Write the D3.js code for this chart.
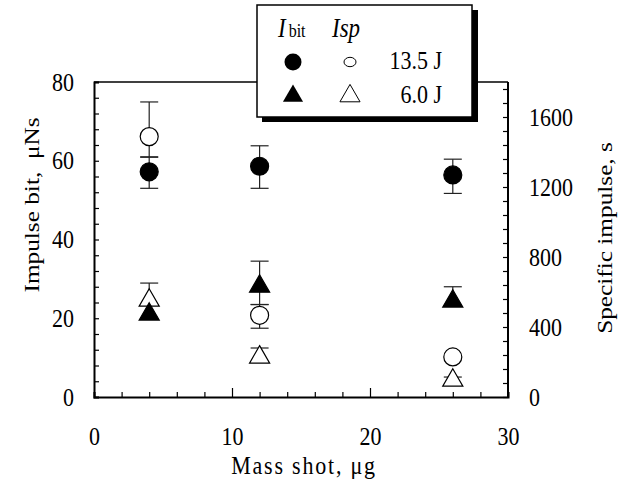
<!DOCTYPE html>
<html>
<head>
<meta charset="utf-8">
<script src="https://cdn.jsdelivr.net/npm/d3@7"></script>
<style>
  body { margin: 0; background: #fff; }
  svg text { font-family: "Liberation Serif", "Times New Roman", Times, serif !important; }
</style>
</head>
<body>
<svg id="chart" width="625" height="495"></svg>
<script>
// mass shot values (x)
const mass = [4, 12, 26];

// impulse bit, uNs (left axis)
const ibit135 = [57.2, 58.6, 56.4];
const ibit135Lo = [53.0, 53.0, 51.7];
const ibit135Hi = [61.0, 63.8, 60.4];
const ibit60 = [21.0, 28.1, 24.3];
const ibit60Lo = [null, 23.5, null];
const ibit60Hi = [null, 34.5, 28.0];

// specific impulse, s (right axis)
const isp135 = [1488, 467, 229];
const isp135Lo = [1370, 393, null];
const isp135Hi = [1686, 528, null];
const isp60 = [552, 227, 95];
const isp60Lo = [null, null, null];
const isp60Hi = [651, 280, 114];

const xTicks = [0, 10, 20, 30];
const leftTicks = [0, 20, 40, 60, 80];
const rightTicks = [0, 400, 800, 1200, 1600];

// the original figure is a bit taller than wide in its lettering
const stretch = 'scale(1,1.15)';

const svg = d3.select('#chart'),
      margin = {top: 82, right: 117, bottom: 98, left: 94},
      width = +svg.attr('width') - margin.left - margin.right,
      height = +svg.attr('height') - margin.top - margin.bottom,
      g = svg.append('g').attr('transform', 'translate(' + margin.left + ',' + margin.top + ')');

const x = d3.scaleLinear().domain([0, 30]).range([0, width]);
const yL = d3.scaleLinear().domain([0, 80]).range([height, 0]);
const yR = d3.scaleLinear().domain([0, 1800]).range([height, 0]);

// top border of the frame
g.append('line')
    .attr('x1', 0).attr('x2', width)
    .attr('y1', 0).attr('y2', 0)
    .attr('stroke', '#000').attr('stroke-width', 1.5);

function styleAxis(sel) {
  sel.attr('font-family', null);
  sel.select('.domain').attr('stroke-width', 2);
  sel.selectAll('.tick line').attr('stroke-width', 1.2);
  sel.selectAll('text').attr('font-size', 22).attr('fill', '#000').attr('transform', stretch);
}

// bottom axis: minor every 2, major every 10
const bottom = g.append('g')
    .attr('transform', 'translate(0,' + height + ')')
    .call(d3.axisBottom(x)
      .tickValues(d3.range(0, 31, 2))
      .tickSizeOuter(0)
      .tickSize(-5)
      .tickFormat(() => ''));
bottom.selectAll('.tick').filter(d => d === 10 || d === 20).select('line').attr('y2', -9);
styleAxis(bottom);
g.append('g')
    .attr('transform', 'translate(0,' + height + ')')
    .call(d3.axisBottom(x).tickValues(xTicks).tickSize(0).tickPadding(26).tickFormat(d3.format('d')))
    .call(s => s.select('.domain').remove())
    .call(styleAxis);

// left axis: ticks every 4
const left = g.append('g')
    .call(d3.axisLeft(yL)
      .tickValues(d3.range(0, 81, 4))
      .tickSizeOuter(0)
      .tickSize(-5)
      .tickPadding(20)
      .tickFormat(d => leftTicks.includes(d) ? d : ''));
styleAxis(left);

// right axis: ticks every 80
const right = g.append('g')
    .attr('transform', 'translate(' + width + ',0)')
    .call(d3.axisRight(yR)
      .tickValues(d3.range(0, 1800, 80))
      .tickSizeOuter(0)
      .tickSize(-5)
      .tickPadding(21)
      .tickFormat(d => rightTicks.includes(d) ? d : ''));
right.select('.domain').attr('d', 'M0,' + height + 'V0');
styleAxis(right);

// axis titles
svg.append('text')
    .attr('transform', 'translate(39,205) ' + stretch + ' rotate(-90)')
    .attr('text-anchor', 'middle')
    .attr('font-size', 22)
    .attr('xml:space', 'preserve')
    .text('Impulse bit,  \u03bcNs');

svg.append('text')
    .attr('transform', 'translate(612,238) ' + stretch + ' rotate(-90)')
    .attr('text-anchor', 'middle')
    .attr('font-size', 22)
    .text('Specific impulse, s');

svg.append('text')
    .attr('transform', 'translate(304,474) ' + stretch)
    .attr('text-anchor', 'middle')
    .attr('font-size', 22)
    .attr('letter-spacing', 1.8)
    .text('Mass shot, \u03bcg');

// error bars
function errorBars(vals, lo, hi, y) {
  const rows = mass.map((m, i) => ({m, v: vals[i], lo: lo[i], hi: hi[i]}));
  const eg = g.append('g').attr('stroke', '#222').attr('stroke-width', 1.2).attr('fill', 'none');
  rows.forEach(r => {
    [r.lo, r.hi].forEach(e => {
      if (e == null) return;
      eg.append('line')
          .attr('x1', x(r.m)).attr('x2', x(r.m))
          .attr('y1', y(r.v)).attr('y2', y(e));
      eg.append('line')
          .attr('x1', x(r.m) - 9).attr('x2', x(r.m) + 9)
          .attr('y1', y(e)).attr('y2', y(e));
    });
  });
}

errorBars(isp135, isp135Lo, isp135Hi, yR);
errorBars(isp60, isp60Lo, isp60Hi, yR);
errorBars(ibit135, ibit135Lo, ibit135Hi, yL);
errorBars(ibit60, ibit60Lo, ibit60Hi, yL);

const triangle = d3.symbol().type(d3.symbolTriangle).size(175);

function points(vals, y, shape, filled) {
  const sel = g.append('g').selectAll('path')
    .data(mass.map((m, i) => ({m, v: vals[i]})))
    .join(shape === 'circle' ? 'circle' : 'path')
      .attr('fill', filled ? '#000' : '#fff')
      .attr('stroke', '#000')
      .attr('stroke-width', 1.2);
  if (shape === 'circle') {
    sel.attr('cx', d => x(d.m)).attr('cy', d => y(d.v)).attr('r', 9);
  } else {
    sel.attr('d', triangle).attr('transform', d => 'translate(' + x(d.m) + ',' + y(d.v) + ')');
  }
}

points(isp135, yR, 'circle', false);
points(isp60, yR, 'triangle', false);
points(ibit135, yL, 'circle', true);
points(ibit60, yL, 'triangle', true);

// legend
const lg = svg.append('g').attr('transform', 'translate(257,5)');
lg.append('rect')
    .attr('x', 5).attr('y', 5).attr('width', 216).attr('height', 112)
    .attr('fill', '#000');
lg.append('rect')
    .attr('x', 0).attr('y', 0).attr('width', 215).attr('height', 112)
    .attr('fill', '#fff').attr('stroke', '#000').attr('stroke-width', 1.5);

const head = lg.append('text')
    .attr('transform', 'translate(21,32) ' + stretch)
    .attr('font-size', 23);
head.append('tspan').attr('font-style', 'italic').text('I');
head.append('tspan').attr('font-size', 16).attr('dx', 3).text('bit');
lg.append('text')
    .attr('transform', 'translate(75,32) ' + stretch)
    .attr('font-size', 23).attr('font-style', 'italic')
    .text('Isp');

const legendLabels = ['13.5 J', '6.0 J'];
const legendRows = [57, 91];
legendLabels.forEach((lab, i) => {
  const yy = legendRows[i];
  if (i === 0) {
    lg.append('circle').attr('cx', 36).attr('cy', yy).attr('r', 8.5).attr('fill', '#000');
    lg.append('ellipse').attr('cx', 93).attr('cy', yy).attr('rx', 6).attr('ry', 4.7)
        .attr('fill', '#fff').attr('stroke', '#000').attr('stroke-width', 1);
  } else {
    lg.append('path').attr('d', triangle).attr('transform', 'translate(36,' + yy + ')').attr('fill', '#000');
    lg.append('path').attr('d', triangle).attr('transform', 'translate(93,' + yy + ')')
        .attr('fill', '#fff').attr('stroke', '#000').attr('stroke-width', 1);
  }
  lg.append('text')
      .attr('transform', 'translate(185,' + (yy + 7) + ') ' + stretch)
      .attr('text-anchor', 'end')
      .attr('font-size', 22)
      .text(lab);
});
</script>
</body>
</html>
